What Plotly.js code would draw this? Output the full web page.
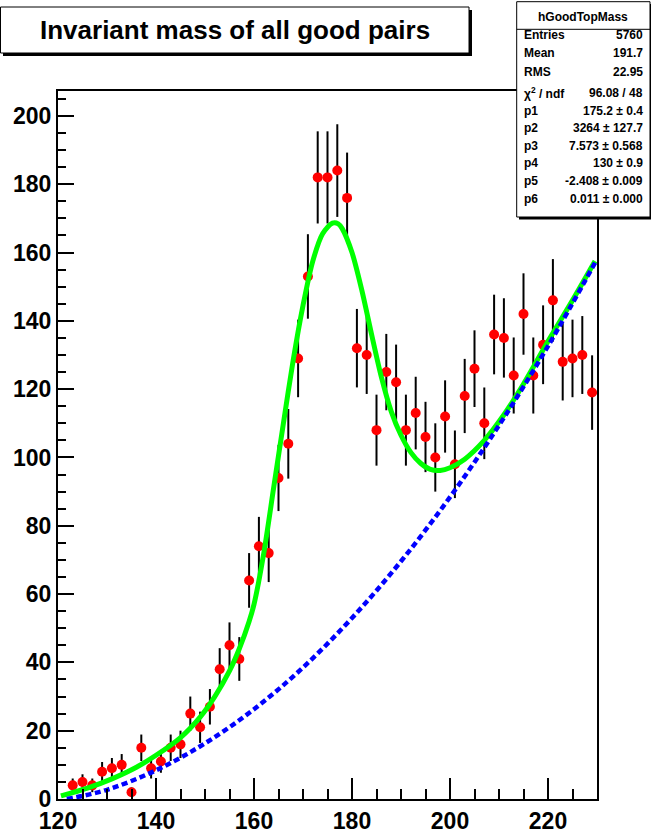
<!DOCTYPE html>
<html>
<head>
<meta charset="utf-8">
<script src="https://cdn.plot.ly/plotly-3.0.1.min.js"></script>
<style>html,body{margin:0;padding:0;background:#fff;}#chart{width:651px;height:834px;}</style>
</head>
<body>
<div id="chart"></div>
<script>
// ---- data ----
const binCenters = [123,125,127,129,131,133,135,137,139,141,143,145,147,149,151,153,155,157,159,161,163,165,167,169,171,173,175,177,179,181,183,185,187,189,191,193,195,197,199,201,203,205,207,209,211,213,215,217,219,221,223,225,227,229];
const counts = [4,5,4,8,9,10,2,15,9,11,15,16,25,21,27,38,45,41,64,74,72,94,104,129,153,182,182,184,176,132,130,108,125,122,108,113,106,100,112,98,118,126,110,136,135,124,142,124,133,146,128,129,130,119];

// total fit curve (green)
const fitX = [120.6,126,131,136,140,145,149,152,155,157,159,160,162,164,166,168,170,172,174,176,177.2,178,180,182,184,186,188,190,192,194,196,198,200,203,207,211,215,220,225,229.6];
const fitY = [0.9,3.2,5.9,9.3,12.8,18.0,24.0,30.0,37.5,44.0,52.0,57.0,72.0,91.0,110.0,128.5,144.5,157.5,165.5,168.6,168.4,167.0,160.0,149.0,136.0,123.5,113.5,106.5,101.5,98.3,96.5,96.2,97.0,99.5,105.0,112.5,121.5,134.0,146.0,157.5];

// background curve (blue dashed)
const bgX = [121.8,130,140,150,160,170,180,190,200,210,220,229.6];
const bgY = [0,2.7,8.4,16.3,26.3,38.5,53.0,69.6,88.4,109.4,132.6,157.0];

const titleText = "Invariant mass of all good pairs";
const statsName = "hGoodTopMass";
const statsLabels = ["Entries","Mean","RMS","χ<sup>2</sup> / ndf","p1","p2","p3","p4","p5","p6"];
const statsValues = ["5760","191.7","22.95","96.08 / 48","175.2 ± 0.4","3264 ± 127.7","7.573 ± 0.568","130 ± 0.9","-2.408 ± 0.009","0.011 ± 0.000"];

// ---- layout helpers (pixel -> paper) ----
const W = 651, H = 834;
const L = 58, R = 597, T = 91, B = 799;
const px = x => (x - L) / (R - L);
const py = y => (B - y) / (B - T);

const FONT = "Liberation Sans, Arial, Helvetica, sans-serif";

const traces = [
  {
    type: 'scatter', mode: 'markers',
    x: binCenters, y: counts,
    marker: {color: '#ff0000', size: 10, line: {width: 0}},
    error_y: {type: 'sqrt', visible: true, color: '#000000', thickness: 2, width: 0},
    hoverinfo: 'x+y'
  },
  {
    type: 'scatter', mode: 'lines',
    x: fitX, y: fitY,
    line: {color: '#00ff00', width: 5, shape: 'spline', smoothing: 0.8}
  },
  {
    type: 'scatter', mode: 'lines',
    x: bgX, y: bgY,
    line: {color: '#0000ff', width: 4.5, shape: 'spline', smoothing: 1, dash: '6px,3.5px'}
  }
];

const shapes = [];
const annotations = [];

// title box with shadow
shapes.push({type:'rect', xref:'paper', yref:'paper', layer:'above',
  x0: px(3), x1: px(472), y0: py(10), y1: py(56), fillcolor:'#000', line:{width:0}});
shapes.push({type:'rect', xref:'paper', yref:'paper', layer:'above',
  x0: px(0.5), x1: px(469), y0: py(7), y1: py(53), fillcolor:'#fff', line:{color:'#000', width:1}});
annotations.push({xref:'paper', yref:'paper', x: px(234.7), y: py(30), xanchor:'center', yanchor:'middle',
  text: titleText, showarrow:false, font:{family:FONT, size:26, color:'#000', weight:'bold'}});

// stats box with shadow
shapes.push({type:'rect', xref:'paper', yref:'paper', layer:'above',
  x0: px(519), x1: px(653), y0: py(4), y1: py(219.5), fillcolor:'#000', line:{width:0}});
shapes.push({type:'rect', xref:'paper', yref:'paper', layer:'above',
  x0: px(516.7), x1: px(650), y0: py(1.7), y1: py(217), fillcolor:'#fff', line:{color:'#000', width:1}});
shapes.push({type:'line', xref:'paper', yref:'paper', layer:'above',
  x0: px(516.7), x1: px(650), y0: py(29.3), y1: py(29.3), line:{color:'#000', width:1}});
annotations.push({xref:'paper', yref:'paper', x: px(583.3), y: py(16.5), xanchor:'center', yanchor:'middle',
  text: statsName, showarrow:false, font:{family:FONT, size:12, color:'#000', weight:'bold'}});
const rowY = [35, 53.3, 71.7, 93, 110.5, 128, 145.5, 163.3, 181, 199];
statsLabels.forEach((lab, i) => {
  annotations.push({xref:'paper', yref:'paper', x: px(521.5), y: py(rowY[i]), xanchor:'left', yanchor:'middle',
    text: lab, showarrow:false, font:{family:FONT, size:12, color:'#000', weight:'bold'}});
  annotations.push({xref:'paper', yref:'paper', x: px(644.5), y: py(rowY[i]), xanchor:'right', yanchor:'middle',
    text: statsValues[i], showarrow:false, font:{family:FONT, size:12, color:'#000', weight:'bold'}});
});

const axisFont = {family: FONT, size: 23, color: '#000', weight: 'bold'};

const layout = {
  width: W, height: H,
  margin: {l: L, r: W - R, t: T, b: H - B, pad: 0},
  paper_bgcolor: '#fff', plot_bgcolor: '#fff',
  showlegend: false,
  xaxis: {
    range: [120, 230], tick0: 120, dtick: 20,
    ticks: 'inside', ticklen: 21, tickwidth: 2, tickcolor: '#000',
    showline: true, linewidth: 2, linecolor: '#000', mirror: true,
    showgrid: false, zeroline: false, tickfont: axisFont,
    minor: {ticks: 'inside', ticklen: 10, tickwidth: 2, tickcolor: '#000', dtick: 5, tick0: 120, showgrid: false}
  },
  yaxis: {
    range: [0, 207.3], tick0: 0, dtick: 20,
    ticks: 'inside', ticklen: 16, tickwidth: 2, tickcolor: '#000',
    showline: true, linewidth: 2, linecolor: '#000', mirror: true,
    showgrid: false, zeroline: false, tickfont: axisFont,
    minor: {ticks: 'inside', ticklen: 8, tickwidth: 2, tickcolor: '#000', dtick: 5, tick0: 0, showgrid: false}
  },
  shapes: shapes,
  annotations: annotations
};

Plotly.newPlot('chart', traces, layout, {staticPlot: true, displayModeBar: false});
</script>
</body>
</html>
